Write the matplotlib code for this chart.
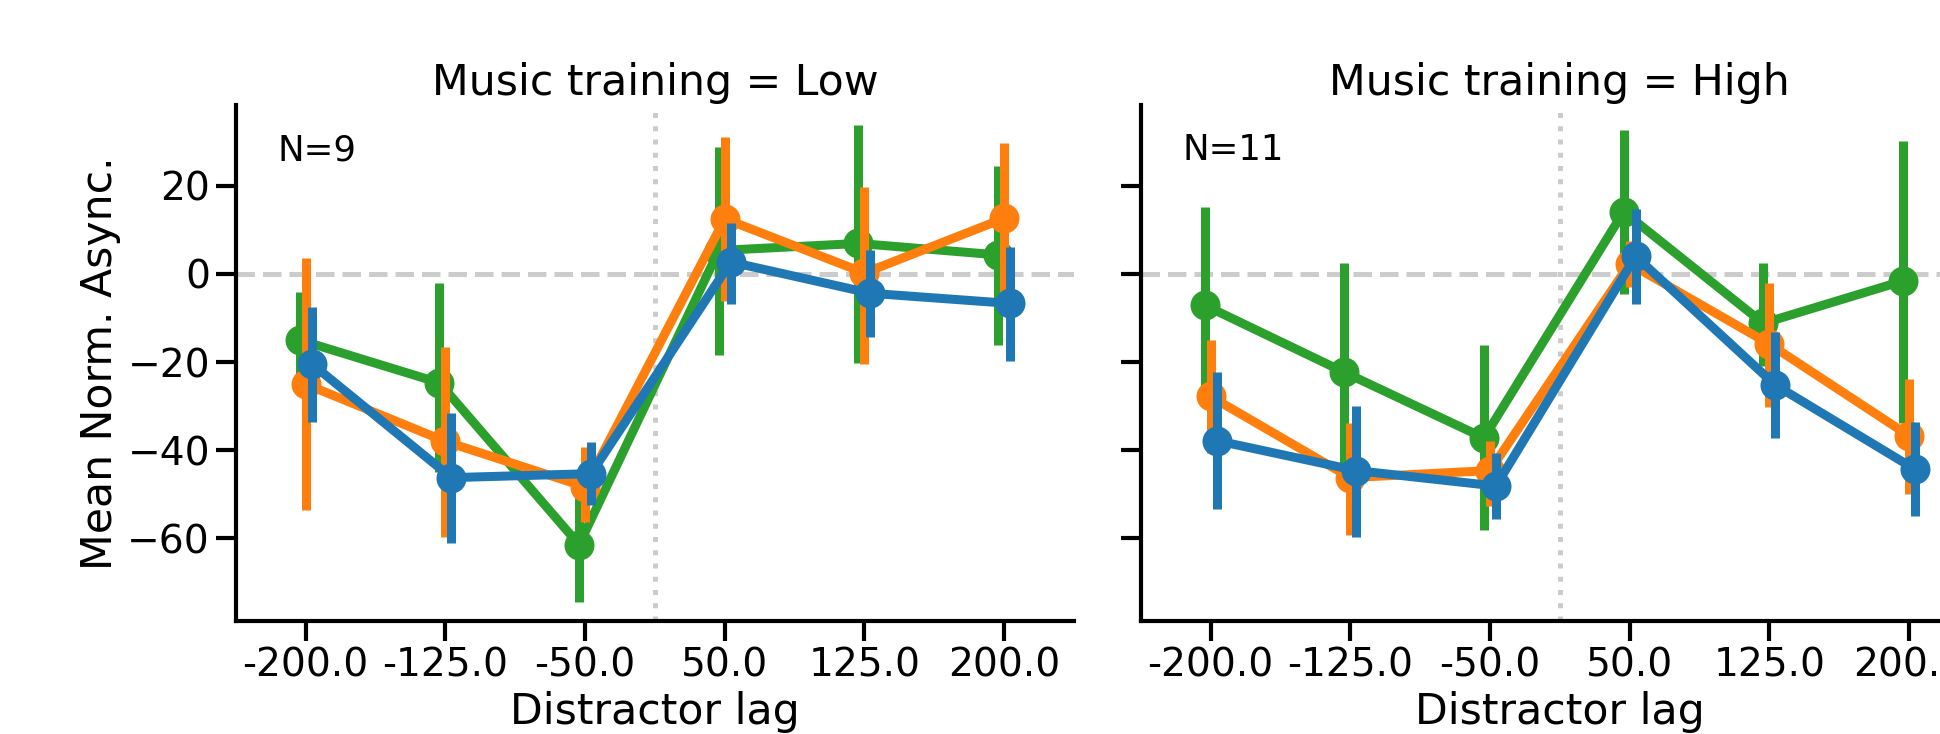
import matplotlib.pyplot as plt
import numpy as np

# distractor lags (categorical x axis) and the two music training groups
lags = ['-200.0', '-125.0', '-50.0', '50.0', '125.0', '200.0']
groups = ['Low', 'High']
n_subjects = {'Low': 9, 'High': 11}

# means and CI bounds
green_low = [-15.0, -24.7, -61.4, 5.3, 6.9, 4.3]
green_low_lo = [-26.0, -45.0, -74.5, -18.4, -20.2, -16.1]
green_low_hi = [-4.0, -2.1, -49.0, 28.7, 33.8, 24.5]
orange_low = [-25.0, -38.0, -48.3, 12.5, 0.2, 12.6]
orange_low_lo = [-53.5, -59.6, -56.3, -6.2, -20.5, -4.5]
orange_low_hi = [3.6, -16.5, -39.2, 31.0, 19.6, 29.6]
blue_low = [-20.4, -46.2, -45.3, 2.7, -4.4, -6.7]
blue_low_lo = [-33.5, -61.1, -52.5, -6.9, -14.3, -19.7]
blue_low_hi = [-7.4, -31.5, -38.2, 11.6, 5.5, 6.2]

green_high = [-7.1, -22.3, -37.2, 14.1, -11.2, -1.6]
green_high_lo = [-27.0, -45.0, -58.1, -4.5, -21.0, -33.9]
green_high_hi = [15.1, 2.4, -16.2, 32.7, 2.5, 30.2]
orange_high = [-27.8, -46.2, -44.6, 2.3, -15.9, -36.7]
orange_high_lo = [-40.7, -59.2, -52.7, -3.0, -30.1, -49.9]
orange_high_hi = [-15.0, -33.9, -37.9, 7.5, -2.1, -23.8]
blue_high = [-37.8, -44.6, -48.1, 4.0, -25.2, -44.3]
blue_high_lo = [-53.4, -59.6, -55.5, -6.9, -37.3, -54.9]
blue_high_hi = [-22.3, -29.9, -40.6, 14.8, -13.1, -33.5]

series = {
    'Low': [(green_low, green_low_lo, green_low_hi, '#2ca02c'),
            (orange_low, orange_low_lo, orange_low_hi, '#ff7f0e'),
            (blue_low, blue_low_lo, blue_low_hi, '#1f77b4')],
    'High': [(green_high, green_high_lo, green_high_hi, '#2ca02c'),
             (orange_high, orange_high_lo, orange_high_hi, '#ff7f0e'),
             (blue_high, blue_high_lo, blue_high_hi, '#1f77b4')],
}

dodge = [-0.043, 0.0, 0.043]
lw = 5.4


def draw_panel(ax, group):
    x = np.arange(len(lags))
    ax.axhline(0, color='0.8', ls='--', lw=3, zorder=1)
    ax.axvline(2.5, color='0.8', ls=':', lw=3, zorder=1)
    for i, (m, lo, hi, c) in enumerate(series[group]):
        xs = x + dodge[i]
        ax.vlines(xs, lo, hi, color=c, lw=lw, zorder=2 + i)
        ax.plot(xs, m, color=c, lw=lw, marker='o', markersize=18,
                markeredgewidth=0, zorder=2 + i)
    ax.set_xticks(x)
    ax.set_xticklabels(lags)
    ax.set_xlim(-0.5, 5.5)
    ax.set_ylim(-78.7, 38.3)
    ax.set_yticks([-60, -40, -20, 0, 20])
    ax.set_xlabel('Distractor lag', fontsize=25.6)
    ax.set_title('Music training = ' + group, fontsize=25.6)
    ax.text(0.05, 0.945, 'N=%d' % n_subjects[group], transform=ax.transAxes,
            fontsize=21.3, va='top', ha='left')
    for s in ['top', 'right']:
        ax.spines[s].set_visible(False)
    for s in ['left', 'bottom']:
        ax.spines[s].set_linewidth(2.5)
    ax.tick_params(length=12, width=2.5, labelsize=23.5)


fig = plt.figure(figsize=(1940 / 120, 734 / 120), dpi=120)
ax1 = fig.add_axes([0.1216, 0.154, 0.432, 0.703])
ax2 = fig.add_axes([0.588, 0.154, 0.432, 0.703], sharey=ax1)

draw_panel(ax1, 'Low')
draw_panel(ax2, 'High')
ax1.set_ylabel('Mean Norm. Async.', fontsize=25.6)
plt.setp(ax2.get_yticklabels(), visible=False)

fig.savefig('out.png', dpi=120)
